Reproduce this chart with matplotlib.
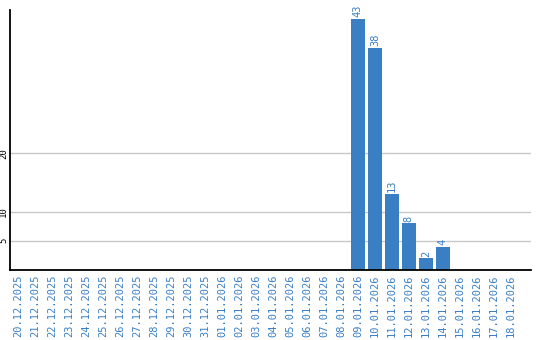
import matplotlib.pyplot as plt
import numpy as np

dates = ['20.12.2025', '21.12.2025', '22.12.2025', '23.12.2025', '24.12.2025',
         '25.12.2025', '26.12.2025', '27.12.2025', '28.12.2025', '29.12.2025',
         '30.12.2025', '31.12.2025', '01.01.2026', '02.01.2026', '03.01.2026',
         '04.01.2026', '05.01.2026', '06.01.2026', '07.01.2026', '08.01.2026',
         '09.01.2026', '10.01.2026', '11.01.2026', '12.01.2026', '13.01.2026',
         '14.01.2026', '15.01.2026', '16.01.2026', '17.01.2026', '18.01.2026']
counts = [0, 0, 0, 0, 0, 0, 0, 0, 0, 0,
          0, 0, 0, 0, 0, 0, 0, 0, 0, 0,
          43, 38, 13, 8, 2, 4, 0, 0, 0, 0]

blue = '#3a7ec4'

fig = plt.figure(figsize=(5.4, 3.4), dpi=100)
ax = fig.add_axes([10/540, 70/340, 521/540, 260/340])

x = np.arange(len(dates))
ax.bar(x, counts, width=0.82, color=blue, zorder=2)

# value labels above non-empty bars
for xi, v in zip(x, counts):
    if v > 0:
        ax.text(xi, v + 0.3, str(v), rotation=90, ha='center', va='bottom',
                color=blue, fontsize=7.5, family='DejaVu Sans Mono')

ax.set_xlim(-0.5, 30.2)
ax.set_ylim(0, 44.5)
ax.set_xticks(x)
ax.set_xticklabels(dates, rotation=90, color=blue, fontsize=7.5,
                   family='DejaVu Sans Mono')
ax.set_yticks([5, 10, 20])
ax.set_yticklabels(['5', '10', '20'], rotation=90, fontsize=6.5,
                   family='DejaVu Sans Mono', va='center')
ax.tick_params(axis='both', length=0, pad=3)
ax.tick_params(axis='y', pad=1.5)
ax.grid(axis='y', color='#c8c8c8', linewidth=1, zorder=0)

for s in ['top', 'right']:
    ax.spines[s].set_visible(False)
ax.spines['left'].set_linewidth(1.3)
ax.spines['bottom'].set_linewidth(1.3)

fig.savefig('out.png', dpi=100)
